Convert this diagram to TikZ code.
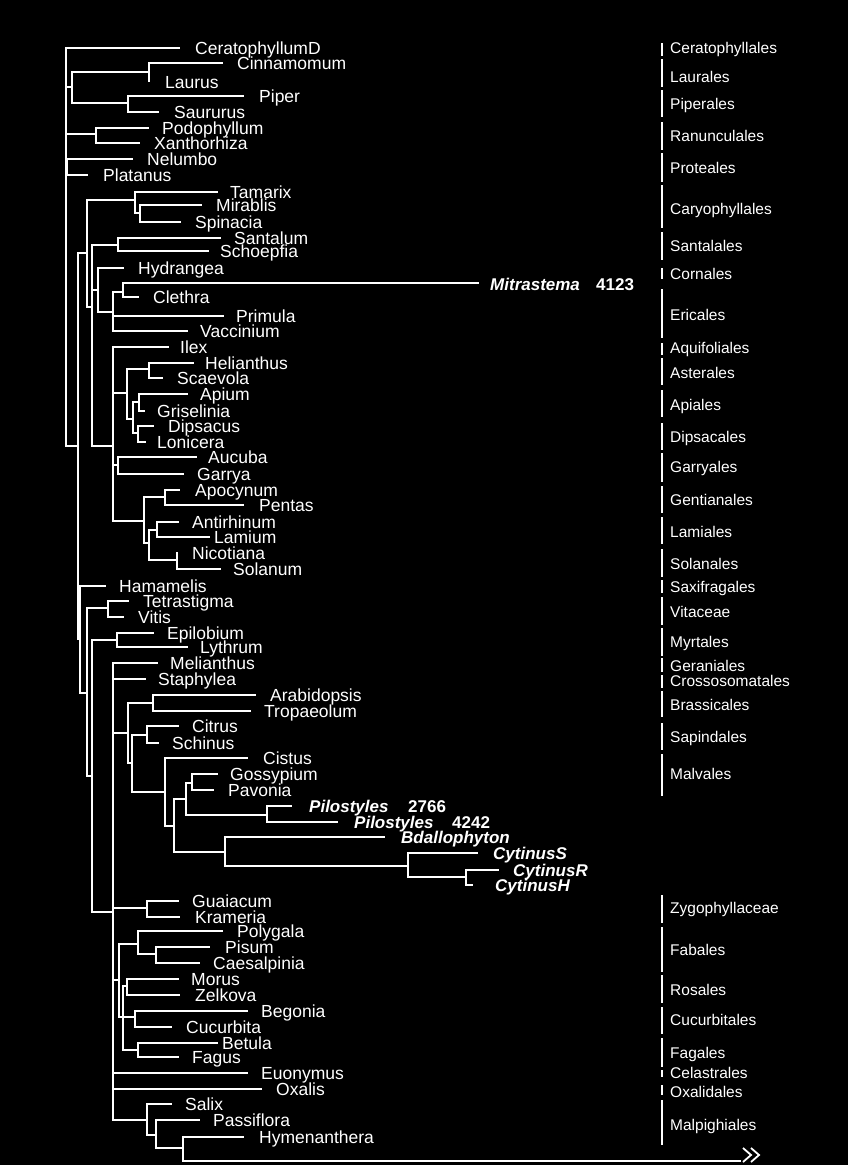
\documentclass[tikz,border=0pt]{standalone}
\usepackage{fontspec}
\setmainfont{Liberation Sans}
\tikzset{br/.style={draw=white,line width=1.6pt,line cap=rect},
 lab/.style={anchor=base west,inner sep=0pt,text=white,font=\fontsize{17.5}{18}\selectfont},
 blab/.style={lab,font=\fontsize{17}{18}\selectfont\bfseries\itshape},
 num/.style={lab,font=\fontsize{17}{18}\selectfont\bfseries},
 olab/.style={lab,font=\fontsize{15.5}{16}\selectfont},
 bar/.style={draw=white,line width=1.5pt}}
\newcommand{\Vs}[3]{\draw[br] (#1,#2) -- (#1,#3);}
\newcommand{\Hs}[3]{\draw[br] (#1,#3) -- (#2,#3);}
\newcommand{\tip}[6]{\draw[br] (#1,#3) -- (#2,#3); \node[lab] (#5) at (#4,#3+6) {#6};}
\newcommand{\ord}[5]{\draw[bar] (662,#1) -- (662,#2); \node[olab] (#4) at (670,#3+5.5) {#5};}
\begin{document}
\begin{tikzpicture}[x=1pt,y=-1pt]
\fill[black] (0,0) rectangle (848,1165);
\useasboundingbox (0,0) rectangle (848,1165);
% basal
\Vs{66}{48}{446}
\tip{66}{179}{48}{195}{cer}{CeratophyllumD}
\Hs{66}{72}{87}\Vs{72}{72}{103}
\Hs{72}{149}{72}\Vs{149}{63}{81}
\tip{149}{222}{63}{237}{cin}{Cinnamomum}
\node[lab] (lau) at (165,88) {Laurus};
\Hs{72}{128}{103}\Vs{128}{96}{112}
\tip{128}{243}{96}{259}{pip}{Piper}
\tip{128}{158}{112}{174}{sau}{Saururus}
\Hs{66}{96}{134}\Vs{96}{128}{143}
\tip{96}{148}{128}{162}{pod}{Podophyllum}
\tip{96}{139}{143}{154}{xan}{Xanthorhiza}
\Hs{66}{67}{167}\Vs{67}{159}{175}
\tip{67}{132}{159}{147}{nel}{Nelumbo}
\tip{67}{87}{175}{103}{pla}{Platanus}
% core eudicots
\Hs{66}{78}{446}\Vs{78}{253}{639}\Hs{78}{87}{253}\Vs{87}{200}{307}
\Hs{87}{135}{200}\Vs{135}{192}{213}
\tip{135}{217}{192}{230}{tam}{Tamarix}
\Hs{135}{140}{213}\Vs{140}{205}{222}
\tip{140}{201}{205}{216}{mir}{Mirablis}
\tip{140}{180}{222}{195}{spi}{Spinacia}
\Hs{87}{92}{307}\Vs{92}{245}{446}
\Hs{92}{118}{245}\Vs{118}{238}{251}
\tip{118}{220}{238}{234}{san}{Santalum}
\tip{118}{208}{251}{220}{sch}{Schoepfia}
\Hs{92}{98}{290}\Vs{98}{268}{312}
\tip{98}{123}{268}{138}{hyd}{Hydrangea}
\Hs{98}{113}{312}\Vs{113}{292}{331}
\Hs{113}{123}{292}\Vs{123}{283}{297}
\draw[br] (123,283) -- (478,283);
\node[blab] (mit) at (490,290) {Mitrastema};
\node[num] (n4123) at (596,290) {4123};
\tip{123}{138}{297}{153}{cle}{Clethra}
\tip{113}{223}{316}{236}{pri}{Primula}
\tip{113}{187}{331}{200}{vac}{Vaccinium}
% euasterids
\Hs{92}{113}{446}\Vs{113}{347}{521}
\tip{113}{168}{347}{180}{ile}{Ilex}
\Hs{113}{127}{393}\Vs{127}{369}{419}
\Hs{127}{149}{369}\Vs{149}{363}{378}
\tip{149}{193}{363}{205}{hel}{Helianthus}
\tip{149}{162}{378}{177}{sca}{Scaevola}
\Hs{127}{133}{419}\Vs{133}{402}{433}
\Hs{133}{139}{402}\Vs{139}{394}{411}
\tip{139}{187}{394}{200}{api}{Apium}
\tip{139}{144}{411}{157}{gri}{Griselinia}
\Hs{133}{138}{433}\Vs{138}{426}{442}
\tip{138}{153}{426}{168}{dip}{Dipsacus}
\tip{138}{145}{442}{157}{lon}{Lonicera}
\Hs{113}{118}{465}\Vs{118}{457}{474}
\tip{118}{196}{457}{208}{auc}{Aucuba}
\tip{118}{183}{474}{197}{gar}{Garrya}
\Hs{113}{144}{521}\Vs{144}{497}{543}
\Hs{144}{165}{497}\Vs{165}{490}{505}
\tip{165}{179}{490}{195}{apo}{Apocynum}
\tip{165}{243}{505}{259}{pen}{Pentas}
\Hs{144}{149}{543}\Vs{149}{530}{560}
\Hs{149}{157}{530}\Vs{157}{522}{537}
\tip{157}{178}{522}{192}{ant}{Antirhinum}
\tip{157}{209}{537}{214}{lam}{Lamium}
\Hs{149}{177}{560}\Vs{177}{553}{569}
\node[lab] (nic) at (192,559) {Nicotiana};
\tip{177}{220}{569}{233}{sol}{Solanum}
% rosids
\Hs{78}{80}{639}\Vs{80}{586}{693}
\tip{80}{105}{586}{119}{ham}{Hamamelis}
\Hs{80}{87}{693}\Vs{87}{608}{776}
\Hs{87}{108}{608}\Vs{108}{601}{617}
\tip{108}{128}{601}{143}{tet}{Tetrastigma}
\tip{108}{123}{617}{138}{vit}{Vitis}
\Hs{87}{92}{776}\Vs{92}{640}{912}
\Hs{92}{117}{640}\Vs{117}{633}{647}
\tip{117}{153}{633}{167}{epi}{Epilobium}
\tip{117}{187}{647}{200}{lyt}{Lythrum}
\Hs{92}{113}{912}\Vs{113}{663}{1120}
\tip{113}{157}{663}{170}{mel}{Melianthus}
\tip{113}{145}{679}{158}{sta}{Staphylea}
\Hs{113}{128}{733}\Vs{128}{703}{763}
\Hs{128}{153}{703}\Vs{153}{695}{711}
\tip{153}{255}{695}{270}{ara}{Arabidopsis}
\tip{153}{250}{711}{264}{tro}{Tropaeolum}
\Hs{128}{132}{763}\Vs{132}{735}{792}
\Hs{132}{147}{735}\Vs{147}{726}{743}
\tip{147}{178}{726}{192}{cit}{Citrus}
\tip{147}{158}{743}{172}{schi}{Schinus}
\Hs{132}{165}{792}\Vs{165}{758}{826}
\tip{165}{247}{758}{263}{cis}{Cistus}
\Hs{165}{174}{826}\Vs{174}{799}{852}
\Hs{174}{186}{799}\Vs{186}{783}{815}
\Hs{186}{192}{783}\Vs{192}{774}{790}
\tip{192}{217}{774}{230}{gos}{Gossypium}
\tip{192}{213}{790}{228}{pav}{Pavonia}
\Hs{186}{267}{815}\Vs{267}{806}{822}
\draw[br] (267,806) -- (291,806);
\node[blab] (pilA) at (309,812) {Pilostyles};
\node[num] (n2766) at (408,812) {2766};
\draw[br] (267,822) -- (337,822);
\node[blab] (pilB) at (354,828) {Pilostyles};
\node[num] (n4242) at (452,828) {4242};
\Hs{174}{225}{852}\Vs{225}{837}{866}
\draw[br] (225,837) -- (384,837);
\node[blab] (bda) at (401,843) {Bdallophyton};
\Hs{225}{408}{866}\Vs{408}{853}{877}
\draw[br] (408,853) -- (477,853);
\node[blab] (cyS) at (493,859) {CytinusS};
\Hs{408}{466}{877}\Vs{466}{870}{885}
\draw[br] (466,870) -- (498,870);
\node[blab] (cyR) at (513,876) {CytinusR};
\draw[br] (466,885) -- (472,885);
\node[blab] (cyH) at (495,891) {CytinusH};
\Hs{113}{147}{908}\Vs{147}{901}{917}
\tip{147}{178}{901}{192}{gua}{Guaiacum}
\tip{147}{179}{917}{195}{kra}{Krameria}
\Hs{113}{119}{980}\Vs{119}{944}{1017}
\Hs{119}{138}{944}\Vs{138}{931}{954}
\tip{138}{222}{931}{237}{pol}{Polygala}
\Hs{138}{156}{954}\Vs{156}{947}{963}
\tip{156}{209}{947}{225}{pis}{Pisum}
\tip{156}{199}{963}{213}{cae}{Caesalpinia}
\Hs{119}{123}{1017}\Vs{123}{986}{1050}
\Hs{123}{127}{986}\Vs{127}{979}{995}
\tip{127}{178}{979}{191}{mor}{Morus}
\tip{127}{179}{995}{195}{zel}{Zelkova}
\Hs{123}{135}{1017}\Vs{135}{1011}{1027}
\tip{135}{247}{1011}{261}{beg}{Begonia}
\tip{135}{171}{1027}{186}{cuc}{Cucurbita}
\Hs{123}{138}{1050}\Vs{138}{1043}{1057}
\tip{138}{217}{1043}{222}{bet}{Betula}
\tip{138}{178}{1057}{192}{fag}{Fagus}
\tip{113}{247}{1073}{261}{euo}{Euonymus}
\tip{113}{261}{1089}{276}{oxa}{Oxalis}
\Hs{113}{147}{1120}\Vs{147}{1104}{1135}
\tip{147}{171}{1104}{185}{sal}{Salix}
\Hs{147}{156}{1135}\Vs{156}{1120}{1148}
\tip{156}{199}{1120}{213}{pas}{Passiflora}
\Hs{156}{183}{1148}\Vs{183}{1137}{1161}
\tip{183}{243}{1137}{259}{hym}{Hymenanthera}
\coordinate (arr) at (740,1161);
\draw[br] (183,1161) -- (arr);
\draw[draw=white,line width=1.8pt] (743,1148) -- (751,1155) -- (743,1162) (751,1148) -- (759,1155) -- (751,1162);
% orders
\ord{43}{56}{48}{o1}{Ceratophyllales}
\ord{59}{87}{77}{o2}{Laurales}
\ord{90}{117}{104}{o3}{Piperales}
\ord{122}{150}{136}{o4}{Ranunculales}
\ord{153}{182}{168}{o5}{Proteales}
\ord{185}{228}{209}{o6}{Caryophyllales}
\ord{232}{260}{246}{o7}{Santalales}
\ord{268}{279}{274}{o8}{Cornales}
\ord{289}{338}{315}{o9}{Ericales}
\ord{343}{355}{348}{o10}{Aquifoliales}
\ord{358}{385}{373}{o11}{Asterales}
\ord{390}{417}{405}{o12}{Apiales}
\ord{423}{450}{437}{o13}{Dipsacales}
\ord{453}{482}{467}{o14}{Garryales}
\ord{486}{513}{500}{o15}{Gentianales}
\ord{517}{544}{532}{o16}{Lamiales}
\ord{549}{577}{564}{o17}{Solanales}
\ord{580}{593}{587}{o18}{Saxifragales}
\ord{597}{625}{612}{o19}{Vitaceae}
\ord{628}{656}{642}{o20}{Myrtales}
\ord{658}{672}{666}{o21}{Geraniales}
\ord{675}{688}{681}{o22}{Crossosomatales}
\ord{691}{717}{705}{o23}{Brassicales}
\ord{723}{750}{737}{o24}{Sapindales}
\ord{754}{796}{774}{o25}{Malvales}
\ord{895}{923}{908}{o26}{Zygophyllaceae}
\ord{927}{972}{950}{o27}{Fabales}
\ord{975}{1003}{990}{o28}{Rosales}
\ord{1007}{1034}{1020}{o29}{Cucurbitales}
\ord{1038}{1067}{1053}{o30}{Fagales}
\ord{1070}{1077}{1073}{o31}{Celastrales}
\ord{1085}{1095}{1092}{o32}{Oxalidales}
\ord{1100}{1145}{1125}{o33}{Malpighiales}
\end{tikzpicture}
\end{document}
